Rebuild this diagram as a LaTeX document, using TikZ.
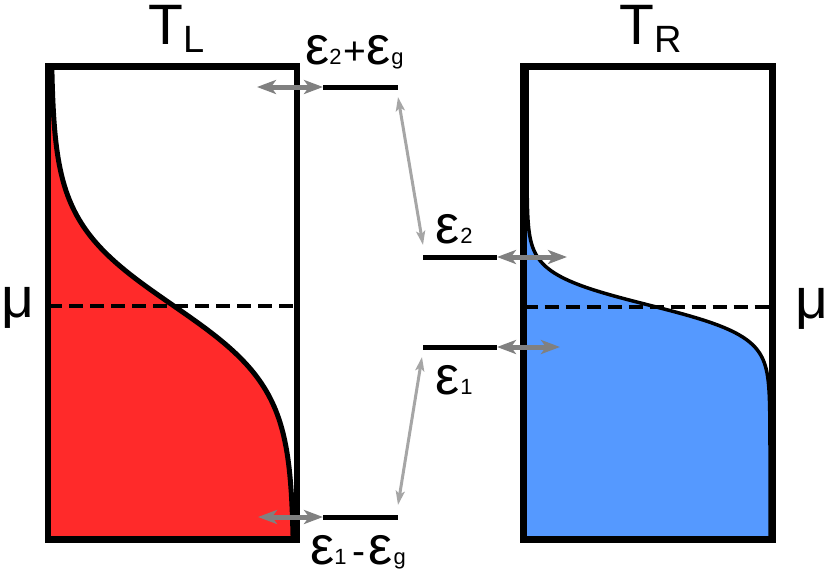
\documentclass[tikz,border=0pt]{standalone}
\usepackage{fontspec}
\setmainfont{Liberation Sans}
\usetikzlibrary{arrows.meta}
\definecolor{hotred}{RGB}{255,42,42}
\definecolor{coldblue}{RGB}{85,153,255}
\definecolor{arrdark}{RGB}{128,128,128}
\definecolor{arrlight}{RGB}{166,166,166}
\newcommand{\Eps}{{\fontsize{54}{54}\selectfont ε}}
\newcommand{\Sub}[1]{{\fontsize{22}{22}\selectfont #1}}
\newcommand{\Mid}[1]{{\fontsize{39}{39}\selectfont #1}}
\newcommand{\BigT}[1]{{\fontsize{57}{57}\selectfont #1}}
\newcommand{\BigSub}[1]{{\fontsize{38}{38}\selectfont #1}}
\newcommand{\MuSym}{{\fontsize{57}{57}\selectfont μ}}
\begin{document}
\begin{tikzpicture}[x=1pt,y=-1pt,
  boxline/.style={line width=6.5pt},
  muline/.style={line width=3.5pt,dash pattern=on 14pt off 7pt},
  level/.style={line width=5pt},
  tunnel/.style={arrdark,line width=5pt,{Stealth[length=19pt,width=14pt,inset=5pt]}-{Stealth[length=19pt,width=14pt,inset=5pt]}},
  hop/.style={arrlight,line width=3pt,{Stealth[length=14pt,width=9pt,inset=3pt]}-{Stealth[length=14pt,width=9pt,inset=3pt]}},
  lbl/.style={inner sep=0pt,anchor=base west}]
\useasboundingbox (0,0) rectangle (831,576);
% left reservoir (hot)
\fill[hotred] (51,70) -- plot[domain=70:536,samples=120,variable=\t] ({51+243/(1+exp(-(\t-305)/42))},{\t}) -- (51,536) -- cycle;
\draw[muline] (48,306) -- (297,306);
\draw[line width=5pt] plot[domain=70:536,samples=120,variable=\t] ({51+243/(1+exp(-(\t-305)/42))},{\t});
\draw[boxline] (48,66.5) rectangle (297,539.5);
% right reservoir (cold)
\fill[coldblue] (527,70) -- (527,170) -- plot[domain=170:450,samples=120,variable=\t] ({527+243/(1+exp(-(\t-305)/15.5))},{\t}) -- (770,536) -- (527,536) -- cycle;
\draw[muline] (523.5,307) -- (772.5,307);
\draw[line width=3.5pt] (527,70) -- (527,170) -- plot[domain=170:450,samples=120,variable=\t] ({527+243/(1+exp(-(\t-305)/15.5))},{\t}) -- (770,536);
\draw[boxline] (523.5,66.5) rectangle (772.5,539.5);
% levels
\coordinate (a1) at (323,87); \coordinate (a2) at (398,87);
\coordinate (b1) at (323,517); \coordinate (b2) at (398,517);
\coordinate (c1) at (423,257); \coordinate (c2) at (497,257);
\coordinate (d1) at (423,347); \coordinate (d2) at (497,347);
\draw[level] (a1) -- (a2);
\draw[level] (b1) -- (b2);
\draw[level] (c1) -- (c2);
\draw[level] (d1) -- (d2);
% tunnelling arrows
\coordinate (ta) at (257,87); \coordinate (tb) at (258,517);
\coordinate (tc) at (567,257); \coordinate (td) at (560,347);
\draw[tunnel] (ta) -- (a1);
\draw[tunnel] (tb) -- (b1);
\draw[tunnel] (c2) -- (tc);
\draw[tunnel] (d2) -- (td);
% hopping arrows
\coordinate (h1) at (398,97); \coordinate (h2) at (423,245);
\coordinate (h3) at (398,505); \coordinate (h4) at (422,357);
\draw[hop] (h1) -- (h2);
\draw[hop] (h3) -- (h4);
% labels
\node[lbl] (TL) at (148,44) {\BigT{T}\raisebox{-8pt}{\BigSub{L}}};
\node[lbl] (TR) at (619,44) {\BigT{T}\raisebox{-8pt}{\BigSub{R}}};
\node[lbl] (muL) at (1,317) {\MuSym};
\node[lbl] (muR) at (795,318) {\MuSym};
\node[lbl] (Ltop) at (305,64) {\Eps\Sub{2}\hspace{2pt}\Mid{+}\Eps\hspace{1pt}\Sub{g}};
\node[lbl] (Lbot) at (310,564) {\Eps\Sub{1}\hspace{6pt}\Mid{-}\hspace{3pt}\Eps\hspace{1pt}\Sub{g}};
\node[lbl] (Le2) at (435,243) {\Eps\hspace{1pt}\Sub{2}};
\node[lbl] (Le1) at (435,394) {\Eps\hspace{1pt}\Sub{1}};
\end{tikzpicture}
\end{document}
